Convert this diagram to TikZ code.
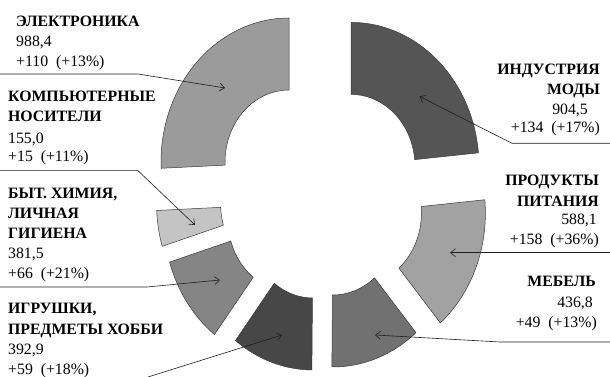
\documentclass[tikz,border=0pt]{standalone}
\usepackage{fontspec}
\setmainfont{Liberation Serif}[BoldFont={Liberation Serif Bold}]
\usetikzlibrary{arrows.meta,calc}
\definecolor{cE}{HTML}{9B9B9B}
\definecolor{cF}{HTML}{555555}
\definecolor{cFd}{HTML}{A2A2A2}
\definecolor{cFu}{HTML}{717171}
\definecolor{cT}{HTML}{474747}
\definecolor{cH}{HTML}{858585}
\definecolor{cC}{HTML}{C4C4C4}
\definecolor{edge}{HTML}{3A3A3A}
\definecolor{conn}{HTML}{1E1E1E}
\tikzset{
  segstyle/.style={draw=edge, line width=0.5pt},
  nm/.style={font=\fontsize{15.8}{20}\selectfont\bfseries, inner sep=0pt},
  nv/.style={font=\fontsize{15.8}{20}\selectfont, inner sep=0pt},
  conline/.style={draw=conn, line width=0.6pt},
  arr/.style={conline, -{Straight Barb[length=5pt,width=8pt]}},
}
\newcommand\seg[6]{%
  \coordinate (#1) at (#2,#3);
  \filldraw[segstyle, fill=#6] ($(#1)+(#4:64pt and 72pt)$) -- ($(#1)+(#4:128pt and 144pt)$)
    arc[start angle=#4, end angle=#5, x radius=128pt, y radius=144pt]
    -- ($(#1)+(#5:64pt and 72pt)$)
    arc[start angle=#5, end angle=#4, x radius=64pt, y radius=72pt] -- cycle;}
\begin{document}
\begin{tikzpicture}[x=1pt,y=1pt]
\useasboundingbox (0,0) rectangle (610,377);
% segments
\seg{sE}{289}{215}{90}{182.5}{cE}
\seg{sF}{351}{210.6}{90}{5.4}{cF}
\seg{sFd}{357.4}{163.7}{5.4}{-49.6}{cFd}
\seg{sFu}{333}{154}{-49.6}{-90.5}{cFu}
\seg{sT}{313}{151}{-90.5}{-127.3}{cT}
\seg{sH}{292}{157}{-127.3}{-163}{cH}
\seg{sC}{284.6}{172.8}{-163}{-177.5}{cC}
% left labels
\node[nm, anchor=base west] (e1) at (16,350.3) {ЭЛЕКТРОНИКА};
\node[nv, anchor=base west] (e2) at (16,330.3) {988,4};
\node[nv, anchor=base west] (e3) at (16,310.3) {+110\ \ (+13\%)};
\node[nm, anchor=base west] (c1) at (8,275.3) {КОМПЬЮТЕРНЫЕ};
\node[nm, anchor=base west] (c2) at (8,255.3) {НОСИТЕЛИ};
\node[nv, anchor=base west] (c3) at (8,233.7) {155,0};
\node[nv, anchor=base west] (c4) at (8,215.3) {+15\ \ (+11\%)};
\node[nm, anchor=base west] (h1) at (8,178.7) {БЫТ. ХИМИЯ,};
\node[nm, anchor=base west] (h2) at (8,158.7) {ЛИЧНАЯ};
\node[nm, anchor=base west] (h3) at (8,138.7) {ГИГИЕНА};
\node[nv, anchor=base west] (h4) at (8,118.7) {381,5};
\node[nv, anchor=base west] (h5) at (8,98.7) {+66\ \ (+21\%)};
\node[nm, anchor=base west] (t1) at (8,63.7) {ИГРУШКИ,};
\node[nm, anchor=base west] (t2) at (8,42) {ПРЕДМЕТЫ ХОББИ};
\node[nv, anchor=base west] (t3) at (8,22) {392,9};
\node[nv, anchor=base west] (t4) at (8,2) {+59\ \ (+18\%)};
% right labels
\node[nm, anchor=base east] (f1) at (600,302) {ИНДУСТРИЯ};
\node[nm, anchor=base east] (f2) at (600,282) {МОДЫ};
\node[nv, anchor=base east] (f3) at (588,262) {904,5};
\node[nv, anchor=base east] (f4) at (600,244) {+134\ \ (+17\%)};
\node[nm, anchor=base east] (d1) at (599,191) {ПРОДУКТЫ};
\node[nm, anchor=base east] (d2) at (599,170.3) {ПИТАНИЯ};
\node[nv, anchor=base east] (d3) at (597,152) {588,1};
\node[nv, anchor=base east] (d4) at (599,132) {+158\ \ (+36\%)};
\node[nm, anchor=base east] (u1) at (596,90) {МЕБЕЛЬ};
\node[nv, anchor=base east] (u2) at (593,69) {436,8};
\node[nv, anchor=base east] (u3) at (597,49) {+49\ \ (+13\%)};
% connector coordinates
\coordinate (eA) at (0,303);   \coordinate (eB) at (138,303);  \coordinate (eT) at (225,289);
\coordinate (cA) at (0,206.3); \coordinate (cB) at (138,206.3);\coordinate (cT) at (195,152);
\coordinate (hA) at (0,90);    \coordinate (hB) at (147,90);   \coordinate (hT) at (220,97);
\coordinate (tA) at (148,0);   \coordinate (tT) at (282,42);
\coordinate (fA) at (610,233.7);\coordinate (fB) at (512,233.7);\coordinate (fT) at (419.5,280.5);
\coordinate (dA) at (610,124.3);\coordinate (dT) at (450,124.3);
\coordinate (uA) at (610,35);  \coordinate (uB) at (500,35);   \coordinate (uT) at (375,42);
% connectors
\draw[arr] (eA) -- (eB) -- (eT);
\draw[arr] (cA) -- (cB) -- (cT);
\draw[arr] (hA) -- (hB) -- (hT);
\draw[arr] (tA) -- (tT);
\draw[arr] (fA) -- (fB) -- (fT);
\draw[arr] (dA) -- (dT);
\draw[arr] (uA) -- (uB) -- (uT);
\end{tikzpicture}
\end{document}
